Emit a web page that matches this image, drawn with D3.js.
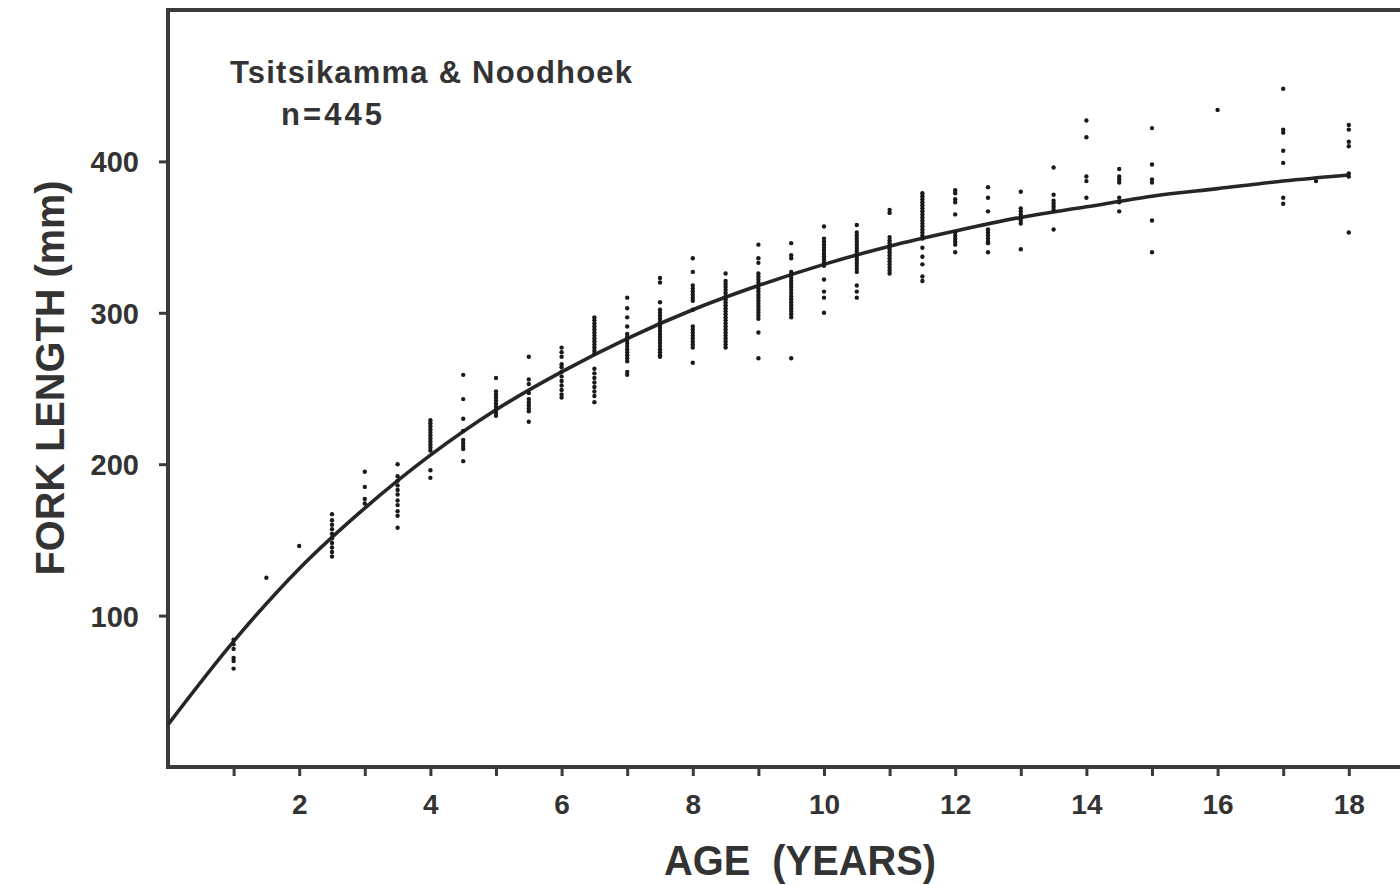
<!DOCTYPE html>
<html>
<head>
<meta charset="utf-8">
<script src="https://cdn.jsdelivr.net/npm/d3@7"></script>
<style>
  html, body { margin: 0; padding: 0; background: #ffffff; }
  svg { display: block; }
</style>
</head>
<body>
<svg id="chart" width="1400" height="885"></svg>
<script>
// ---- data ----
const ages = [1, 1.5, 2, 2.5, 3, 3.5, 4, 4.5, 5, 5.5, 6, 6.5, 7, 7.5, 8, 8.5, 9, 9.5, 10, 10.5,
              11, 11.5, 12, 12.5, 13, 13.5, 14, 14.5, 15, 16, 17, 17.5, 18];
const lengths = [
  [84, 81, 78, 72, 70, 65],
  [125],
  [146],
  [167, 163, 160, 157, 154, 151, 148, 145, 142, 139],
  [195, 185, 177, 174],
  [200, 192, 189, 186, 183, 180, 176, 173, 169, 166, 158],
  [229, 227, 225, 223, 221, 219, 217, 215, 213, 211, 209, 196, 191],
  [259, 243, 230, 222, 216, 214, 212, 210, 202],
  [257, 248, 246, 244, 242, 240, 238, 236, 234, 232],
  [271, 256, 253, 247, 243, 241, 239, 237, 235, 228],
  [277, 274, 271, 266, 264, 261, 258, 255, 252, 249, 246, 244],
  [297, 295, 293, 291, 289, 287, 285, 283, 281, 279, 277, 275, 273, 263, 260, 257, 254, 251, 248, 245, 241],
  [310, 303, 297, 291, 286, 284, 282, 280, 278, 276, 274, 272, 270, 268, 261, 259],
  [323, 320, 307, 302, 300, 298, 296, 294, 292, 290, 288, 286, 284, 282, 280, 278, 276, 274, 272, 271],
  [336, 327, 318, 316, 314, 312, 310, 308, 302, 291, 289, 287, 285, 283, 281, 279, 277, 267],
  [326, 321, 319, 317, 315, 313, 311, 309, 307, 305, 303, 301, 299, 297, 295, 293, 291, 289, 287, 285, 283, 281, 279, 277],
  [345, 336, 333, 326, 324, 322, 320, 318, 316, 314, 312, 310, 308, 306, 304, 302, 300, 298, 296, 287, 270],
  [346, 338, 336, 327, 325, 323, 321, 319, 317, 315, 313, 311, 309, 307, 305, 303, 301, 299, 297, 270],
  [357, 349, 347, 345, 343, 341, 339, 337, 335, 333, 331, 322, 314, 310, 300],
  [358, 353, 351, 349, 347, 345, 343, 341, 339, 337, 335, 333, 331, 329, 327, 318, 314, 310],
  [368, 366, 350, 348, 346, 344, 342, 340, 338, 336, 334, 332, 330, 328, 326],
  [379, 377, 375, 373, 371, 369, 367, 365, 363, 361, 359, 357, 355, 353, 351, 349, 343, 337, 332, 324, 321],
  [381, 379, 375, 373, 365, 353, 351, 349, 347, 345, 340],
  [383, 376, 367, 355, 353, 351, 349, 347, 346, 340],
  [380, 369, 367, 365, 363, 361, 359, 342],
  [396, 378, 374, 372, 370, 368, 355],
  [427, 416, 390, 387, 376],
  [395, 390, 388, 386, 376, 373, 367],
  [422, 398, 388, 386, 361, 340],
  [434],
  [448, 421, 419, 407, 399, 376, 372],
  [387],
  [424, 421, 413, 410, 392, 390, 353]
];
// fitted growth curve, read at whole ages
const curveAges   = [0, 1, 2, 3, 4, 5, 6, 7, 8, 9, 10, 11, 12, 13, 14, 15, 16, 17, 18];
const curveLength = [28, 83, 131, 171, 206, 236, 261, 283, 302, 318, 332, 344, 354, 363, 370, 377, 382, 387, 391];

const xTickValues = [1, 2, 3, 4, 5, 6, 7, 8, 9, 10, 11, 12, 13, 14, 15, 16, 17, 18, 19];
const xTickLabels = [2, 4, 6, 8, 10, 12, 14, 16, 18];
const yTickValues = [100, 200, 300, 400];

const title1 = "Tsitsikamma & Noodhoek";
const title2 = "n=445";
const xTitle = "AGE  (YEARS)";
const yTitle = "FORK LENGTH (mm)";

// ---- layout ----
const svg = d3.select("#chart");
const plotLeft = 168, plotTop = 10, plotBottom = 767;
const x = d3.scaleLinear().domain([0, 1]).range([plotLeft, plotLeft + 65.6]);
const y = d3.scaleLinear().domain([0, 500]).range([plotBottom, plotTop]);
const ink = "#333333";
const font = "'Liberation Sans', Arial, Helvetica, sans-serif";

// frame
svg.append("path")
  .attr("d", `M${x(20)},${plotTop} H${plotLeft} V${plotBottom} H${x(20)}`)
  .attr("fill", "none").attr("stroke", "#3a3a3a").attr("stroke-width", 4);

// x axis
const xAxis = d3.axisBottom(x)
  .tickValues(xTickValues)
  .tickSize(9).tickPadding(18)
  .tickFormat(d => xTickLabels.includes(d) ? d : "");
const gx = svg.append("g").attr("transform", `translate(0,${plotBottom})`).call(xAxis);
gx.select(".domain").remove();
gx.selectAll(".tick line").attr("stroke", "#3a3a3a").attr("stroke-width", 3);
gx.selectAll(".tick text").attr("fill", ink).attr("font-family", font)
  .attr("font-size", 28).attr("font-weight", "bold");

// y axis
const yAxis = d3.axisLeft(y).tickValues(yTickValues).tickSize(9).tickPadding(20);
const gy = svg.append("g").attr("transform", `translate(${plotLeft},0)`).call(yAxis);
gy.select(".domain").remove();
gy.selectAll(".tick line").attr("stroke", "#3a3a3a").attr("stroke-width", 3);
gy.selectAll(".tick text").attr("fill", ink).attr("font-family", font)
  .attr("font-size", 29).attr("font-weight", "bold").attr("dy", "0.36em");

// growth curve
const line = d3.line().x((d, i) => x(curveAges[i])).y(d => y(d)).curve(d3.curveMonotoneX);
svg.append("path").datum(curveLength)
  .attr("d", line)
  .attr("fill", "none").attr("stroke", "#262626").attr("stroke-width", 3.6)
  .attr("stroke-linejoin", "round");

// scatter points
const points = [];
ages.forEach((a, i) => lengths[i].forEach(v => points.push({ age: a, len: v })));
svg.append("g").selectAll("circle").data(points).join("circle")
  .attr("cx", d => x(d.age)).attr("cy", d => y(d.len))
  .attr("r", 2.2).attr("fill", "#1a1a1a");

// annotation
svg.append("text").attr("x", 230).attr("y", 83)
  .attr("font-family", font).attr("font-size", 31).attr("font-weight", "bold")
  .attr("fill", ink).attr("textLength", 402).attr("lengthAdjust", "spacing")
  .text(title1);
svg.append("text").attr("x", 281).attr("y", 125)
  .attr("font-family", font).attr("font-size", 31).attr("font-weight", "bold")
  .attr("fill", ink).attr("textLength", 101).attr("lengthAdjust", "spacing")
  .text(title2);

// axis titles
svg.append("text").attr("x", 800).attr("y", 875).attr("text-anchor", "middle")
  .attr("font-family", font).attr("font-size", 42).attr("fill", ink)
  .attr("font-weight", "bold").attr("textLength", 272).attr("lengthAdjust", "spacingAndGlyphs")
  .attr("xml:space", "preserve").style("white-space", "pre")
  .text(xTitle);
svg.append("text").attr("transform", "translate(64,378) rotate(-90)")
  .attr("text-anchor", "middle")
  .attr("font-family", font).attr("font-size", 41).attr("fill", ink)
  .attr("font-weight", "bold").attr("textLength", 395).attr("lengthAdjust", "spacingAndGlyphs")
  .text(yTitle);
</script>
</body>
</html>
